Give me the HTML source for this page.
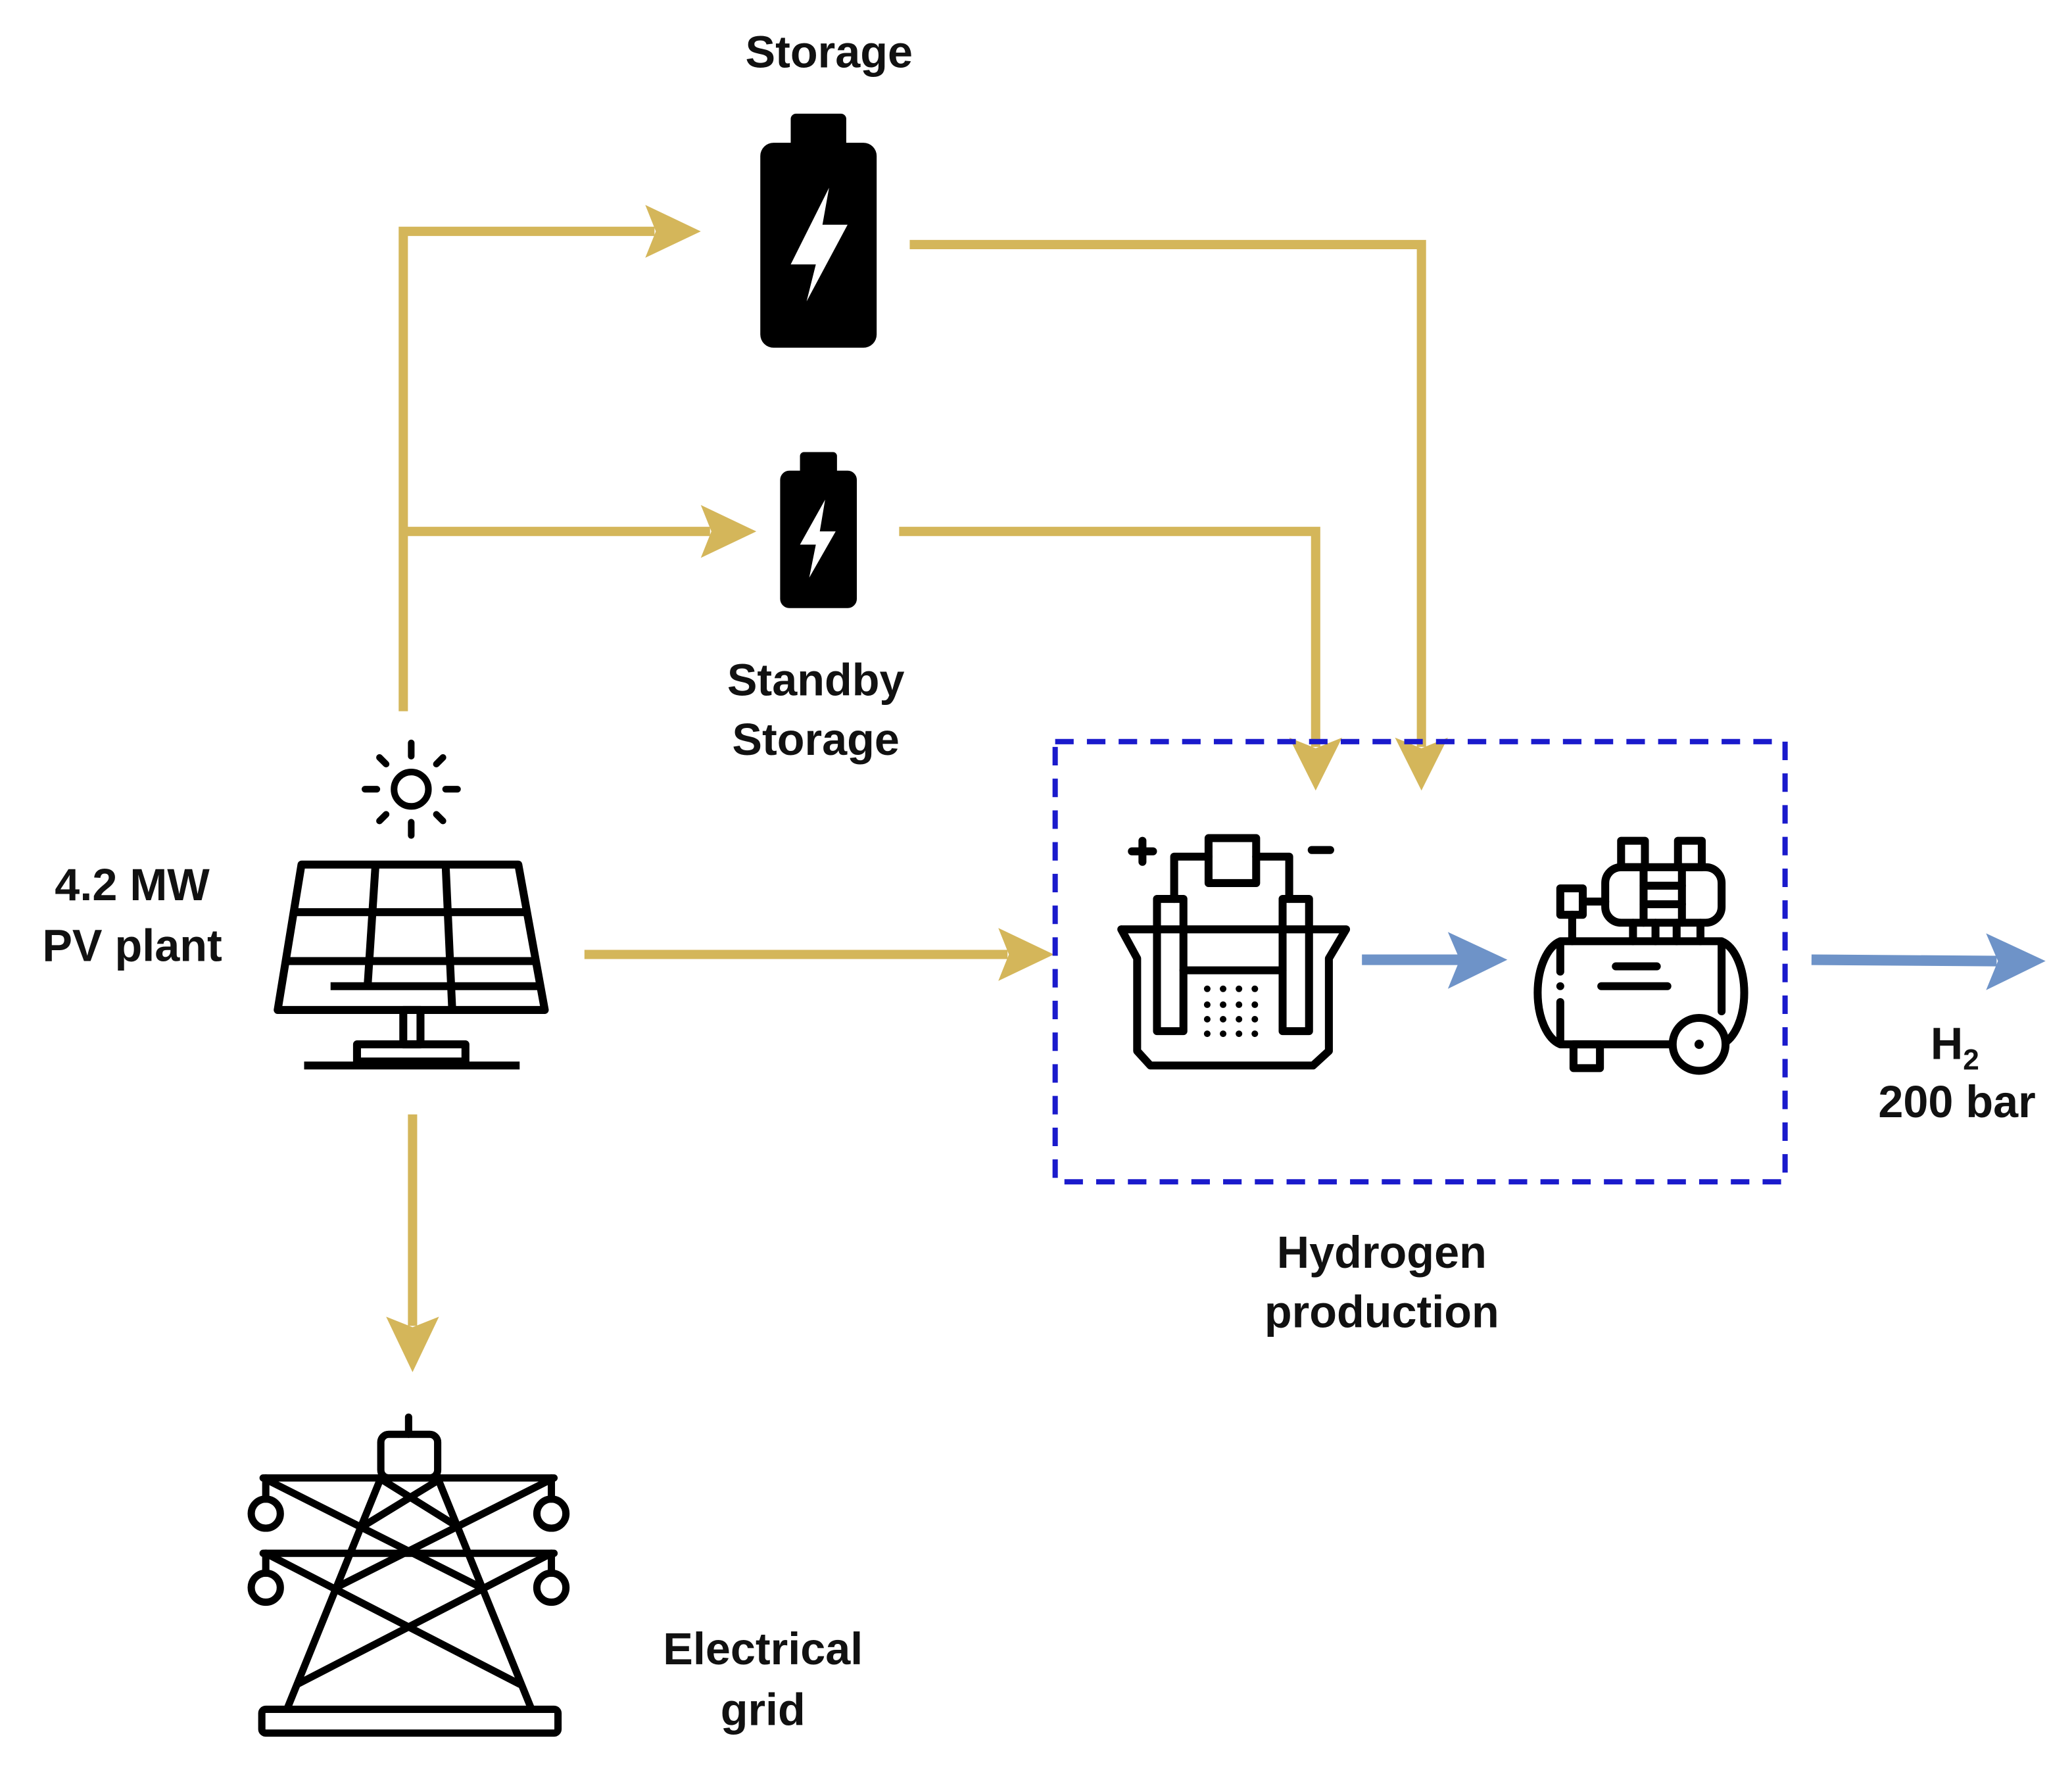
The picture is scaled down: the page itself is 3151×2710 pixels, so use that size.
<!DOCTYPE html>
<html><head><meta charset="utf-8"><style>
html,body{margin:0;padding:0;background:#fff;}
svg{display:block;}
text{font-family:"Liberation Sans",sans-serif;font-weight:bold;fill:#111;}
</style></head><body>
<svg width="3151" height="2710" viewBox="0 0 1567 1348" preserveAspectRatio="none" xmlns="http://www.w3.org/2000/svg">
<rect width="1567" height="1348" fill="#fff"/>
<g stroke="#D4B65A" stroke-width="7" fill="none">
<polyline points="305,538 305,175 495,175"/>
<line x1="305" y1="402" x2="537" y2="402"/>
<polyline points="688,185 1075,185 1075,565"/>
<polyline points="680,402 995,402 995,565"/>
<line x1="442" y1="722" x2="762" y2="722"/>
<line x1="312" y1="843" x2="312" y2="1003"/>
</g>
<g fill="#D4B65A">
<polygon points="530,175 488,155 496,175 488,195"/>
<polygon points="572,402 530,382 538,402 530,422"/>
<polygon points="1075,598 1055,558 1075,566 1095,558"/>
<polygon points="995,598 975,558 995,566 1015,558"/>
<polygon points="797,722 755,702 763,722 755,742"/>
<polygon points="312,1038 292,996 312,1004 332,996"/>
</g>
<g stroke="#6E93C8" stroke-width="8" fill="none">
<line x1="1030" y1="726" x2="1105" y2="726"/>
<line x1="1370" y1="726" x2="1510" y2="727"/>
</g>
<g fill="#6E93C8">
<polygon points="1140,726 1095,705 1104,726 1095,748"/>
<polygon points="1547,727 1502,706 1511,727 1502,749"/>
</g>
<rect x="798" y="561" width="552" height="333" fill="none" stroke="#1A1ACC" stroke-width="4" stroke-dasharray="14 10"/>
<!-- batteries -->
<rect x="598" y="86" width="42" height="30" rx="4" fill="#000"/>
<rect x="575" y="108" width="88" height="155" rx="10" fill="#000"/>
<polygon points="627,142 598,200 617,200 610,228 641,170 622,170" fill="#fff"/>
<rect x="605" y="342" width="28" height="20" rx="3" fill="#000"/>
<rect x="590" y="356" width="58" height="104" rx="7" fill="#000"/>
<polygon points="624,378 605,412 617,412 612,437 632,402 620,402" fill="#fff"/>
<!-- sun -->
<g stroke="#000" stroke-width="5" fill="none" stroke-linecap="round">
<circle cx="311" cy="597" r="13"/>
<line x1="311" y1="562" x2="311" y2="572"/><line x1="311" y1="622" x2="311" y2="632"/>
<line x1="276" y1="597" x2="285" y2="597"/><line x1="337" y1="597" x2="346" y2="597"/>
<line x1="287" y1="573" x2="292" y2="578"/><line x1="330" y1="616" x2="335" y2="621"/>
<line x1="335" y1="573" x2="330" y2="578"/><line x1="292" y1="616" x2="287" y2="621"/>
</g>
<!-- solar panel -->
<g stroke="#000" stroke-width="6" fill="none" stroke-linejoin="round">
<polygon points="228,654 392,654 412,764 210,764"/>
<line x1="222" y1="690" x2="398" y2="690"/>
<line x1="216" y1="727" x2="405" y2="727"/>
<line x1="284" y1="654" x2="278" y2="746"/>
<line x1="337" y1="654" x2="342" y2="764"/>
<line x1="250" y1="746" x2="408" y2="746"/>
<rect x="305" y="764" width="13" height="26"/>
<rect x="270" y="790" width="82" height="13"/>
<line x1="230" y1="806" x2="393" y2="806"/>
</g>
<!-- electrolyzer -->
<g stroke="#000" stroke-width="6" fill="none" stroke-linejoin="round" stroke-linecap="round">
<line x1="864" y1="636" x2="864" y2="652"/><line x1="856" y1="644" x2="872" y2="644"/>
<line x1="992" y1="643" x2="1006" y2="643"/>
<rect x="914" y="634" width="36" height="34"/>
<polyline points="888,680 888,648 914,648"/><polyline points="950,648 975,648 975,680"/>
<rect x="875" y="680" width="20" height="100"/>
<rect x="970" y="680" width="20" height="100"/>
<polyline points="848,703 1018,703 1005,725 1005,795 993,806 870,806 860,795 860,725 848,703"/>
<line x1="895" y1="734" x2="970" y2="734"/>
</g>
<g fill="#000">
<g id="dr"><circle cx="913" cy="748" r="2.5"/><circle cx="925" cy="748" r="2.5"/><circle cx="937" cy="748" r="2.5"/><circle cx="949" cy="748" r="2.5"/></g>
<use href="#dr" y="12"/><use href="#dr" y="23"/><use href="#dr" y="34"/>
</g>
<!-- compressor -->
<g stroke="#000" stroke-width="6" fill="none" stroke-linejoin="round" stroke-linecap="round">
<rect x="1226" y="636" width="18" height="20"/><rect x="1269" y="636" width="18" height="20"/>
<rect x="1214" y="656" width="88" height="42" rx="12"/>
<line x1="1243" y1="656" x2="1243" y2="698"/><line x1="1272" y1="656" x2="1272" y2="698"/>
<line x1="1243" y1="670" x2="1272" y2="670"/><line x1="1243" y1="684" x2="1272" y2="684"/>
<rect x="1180" y="672" width="17" height="20"/>
<line x1="1197" y1="682" x2="1214" y2="682"/>
<line x1="1189" y1="692" x2="1189" y2="712"/>
<line x1="1235" y1="698" x2="1235" y2="712"/><line x1="1252" y1="698" x2="1252" y2="712"/><line x1="1268" y1="698" x2="1268" y2="712"/><line x1="1286" y1="698" x2="1286" y2="712"/>
<path d="M1180,712 L1302,712 A22,40 0 0 1 1302,790 L1180,790 A22,40 0 0 1 1180,712 Z"/>
<line x1="1180" y1="715" x2="1180" y2="735"/><line x1="1180" y1="758" x2="1180" y2="787"/>
<line x1="1302" y1="715" x2="1302" y2="765"/>
<line x1="1222" y1="731" x2="1253" y2="731"/><line x1="1211" y1="746" x2="1261" y2="746"/>
<rect x="1190" y="790" width="20" height="18"/>
<circle cx="1285" cy="790" r="20" fill="#fff"/>
</g>
<circle cx="1180" cy="746" r="3" fill="#000"/><circle cx="1285" cy="790" r="3.5" fill="#000"/>
<!-- tower -->
<g stroke="#000" stroke-width="5.5" fill="none" stroke-linejoin="round" stroke-linecap="round">
<line x1="309" y1="1072" x2="309" y2="1085"/>
<rect x="288" y="1085" width="43" height="33" rx="6"/>
<line x1="199" y1="1118" x2="419" y2="1118"/>
<line x1="199" y1="1175" x2="419" y2="1175"/>
<line x1="201" y1="1118" x2="201" y2="1134"/><line x1="417" y1="1118" x2="417" y2="1134"/>
<line x1="201" y1="1175" x2="201" y2="1190"/><line x1="417" y1="1175" x2="417" y2="1190"/>
<circle cx="201" cy="1145" r="11"/><circle cx="417" cy="1145" r="11"/>
<circle cx="201" cy="1201" r="11"/><circle cx="417" cy="1201" r="11"/>
<line x1="288" y1="1118" x2="217" y2="1293"/><line x1="331" y1="1118" x2="402" y2="1293"/>
<line x1="201" y1="1119" x2="360" y2="1199"/><line x1="417" y1="1119" x2="258" y2="1199"/>
<line x1="201" y1="1175" x2="393" y2="1274"/><line x1="417" y1="1175" x2="225" y2="1274"/>
<line x1="290" y1="1120" x2="343" y2="1153"/><line x1="331" y1="1120" x2="277" y2="1153"/>
<rect x="198" y="1293" width="224" height="18" rx="3"/>
</g>
<!-- labels -->
<text x="627" y="51" font-size="34" text-anchor="middle">Storage</text>
<text x="617" y="526" font-size="34" text-anchor="middle">Standby</text>
<text x="617" y="571" font-size="34" text-anchor="middle">Storage</text>
<text x="100" y="681" font-size="34" text-anchor="middle">4.2 MW</text>
<text x="100" y="727" font-size="34" text-anchor="middle">PV plant</text>
<text x="1045" y="959" font-size="34" text-anchor="middle">Hydrogen</text>
<text x="1045" y="1004" font-size="34" text-anchor="middle">production</text>
<text x="577" y="1259" font-size="34" text-anchor="middle">Electrical</text>
<text x="577" y="1305" font-size="34" text-anchor="middle">grid</text>
<text x="1460" y="801" font-size="34">H<tspan font-size="22" dy="8">2</tspan></text>
<text x="1480" y="845" font-size="34" text-anchor="middle">200 bar</text>
</svg>
</body></html>
